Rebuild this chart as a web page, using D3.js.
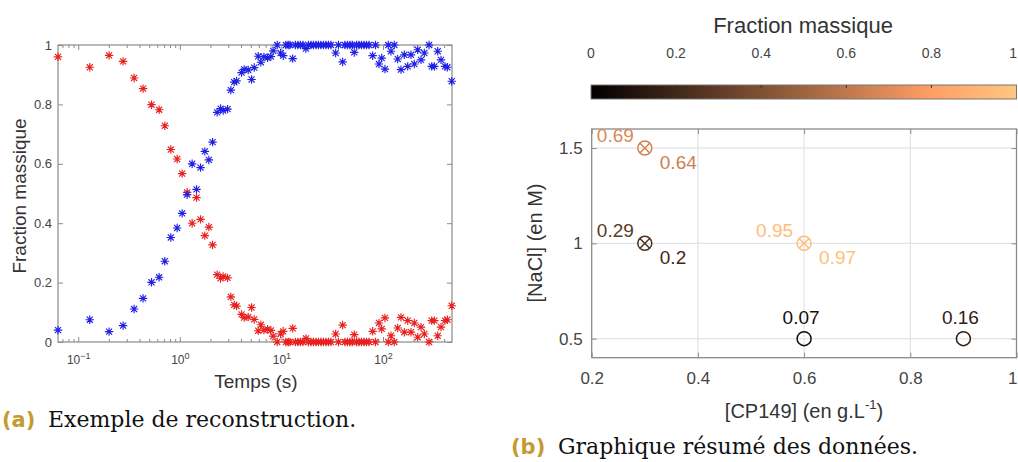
<!DOCTYPE html>
<html><head><meta charset="utf-8">
<script src="https://cdn.jsdelivr.net/npm/d3@7"></script>
<style>body{margin:0;background:#fff}svg{display:block}</style>
</head><body>
<svg id="c" width="1018" height="462"></svg>
<script>
// ---- Panel (a) data ----
const times = [0.0632,0.1298,0.2011,0.2763,0.3547,0.4349,0.5263,0.6253,0.7115,0.8153,0.9406,1.0536,1.180,1.322,1.460,1.599,1.763,1.931,2.100,2.331,2.518,2.671,2.951,3.18,3.428,3.619,4.054,4.300,4.710,5.087,5.395,5.907,6.281,6.724,7.311,7.883,8.30,9.09,9.82,10.42,11.08,11.67,12.13,12.92,13.73,14.54,15.39,16.29,17.43,18.45,19.53,20.67,21.88,23.15,24.50,25.94,27.45,29.04,30.74,34.2,36.44,40.08,42.23,44.70,47.31,49.84,52.15,55.07,58.01,61.40,65.01,68.8,72.8,79.16,84.37,91.3,97.1,104.6,112.8,119.9,129.2,139.6,150.4,162.2,175.1,188.7,203.4,219.8,236.8,255.3,284.0,301.9,320.2,345.8,372.7,408.1,430.0,475.2];
const redFrac = [0.96,0.925,0.965,0.945,0.889,0.853,0.799,0.782,0.728,0.648,0.616,0.567,0.504,0.40,0.486,0.413,0.358,0.387,0.327,0.227,0.214,0.221,0.216,0.152,0.125,0.121,0.093,0.082,0.084,0.116,0.076,0.038,0.058,0.040,0.043,0.039,0.020,0.0,0.027,0.036,0,0,0,0.046,0,0,0,0,0.012,0,0,0,0,0,0,0,0,0,0,0.027,0,0.057,0,0,0,0,0.025,0,0,0,0,0,0,0.036,0,0.064,0.044,0.081,0,0.021,0,0.047,0.083,0.033,0.072,0.033,0.064,0.016,0.05,0.027,0,0.072,0.072,0.021,0.05,0.072,0.075,0.122];
const blueFrac = [0.04,0.075,0.035,0.055,0.111,0.147,0.201,0.218,0.272,0.352,0.384,0.433,0.496,0.60,0.514,0.587,0.642,0.613,0.673,0.773,0.786,0.779,0.784,0.848,0.875,0.879,0.907,0.918,0.916,0.884,0.924,0.962,0.942,0.960,0.957,0.961,0.980,1.0,0.973,0.964,1,1,1,0.954,1,1,1,1,0.988,1,1,1,1,1,1,1,1,1,1,0.973,1,0.943,1,1,1,1,0.975,1,1,1,1,1,1,0.964,1,0.936,0.956,0.919,1,0.979,1,0.953,0.917,0.967,0.928,0.967,0.936,0.984,0.95,0.973,1,0.928,0.928,0.979,0.95,0.928,0.925,0.878];
const aYTicks = [0,0.2,0.4,0.6,0.8,1];
const aXTicks = [0.1,1,10,100];

// ---- Panel (b) data ----
const cpConc = [0.3,0.3,0.6,0.6,0.9];
const naclConc = [1.5,1.0,1.0,0.5,0.5];
const fracTop = [0.69,0.29,0.95,0.07,0.16];
const fracBottom = [0.64,0.2,0.97,null,null];
const bXTicks = [0.2,0.4,0.6,0.8,1];
const bYTicks = [0.5,1,1.5];
const cbTicks = [0,0.2,0.4,0.6,0.8,1];

const svg = d3.select("#c");
const FONT = "'Liberation Sans', Arial, sans-serif";
const AX = "#8a8a8a", TXT = "#444";

// copper colormap
const copper = t => d3.rgb(Math.min(1,1.25*t)*255, 0.7812*t*255, 0.4975*t*255).formatHex();

// ================= Panel (a) =================
const ax = d3.scaleLog().domain([0.0632, 478]).range([58, 452]);
const ay = d3.scaleLinear().domain([0,1]).range([342, 45]);
const ga = svg.append("g");

const minor = [];
[0.01,0.1,1,10,100].forEach(p => { for (let k=2;k<10;k++){ const v=p*k; if (v>=0.0632 && v<=478) minor.push(v);} });
ga.append("g").attr("transform","translate(0,342)")
  .call(d3.axisBottom(ax).tickValues(minor).tickSize(-3).tickFormat(""))
  .call(g=>g.select(".domain").remove()).selectAll("line").attr("stroke",AX);
ga.append("g").attr("transform","translate(0,45)")
  .call(d3.axisTop(ax).tickValues(minor).tickSize(-3).tickFormat(""))
  .call(g=>g.select(".domain").remove()).selectAll("line").attr("stroke",AX);
ga.append("g").attr("transform","translate(0,45)")
  .call(d3.axisTop(ax).tickValues(aXTicks).tickSize(-5).tickFormat(""))
  .call(g=>g.select(".domain").remove()).selectAll("line").attr("stroke",AX);
const xb = ga.append("g").attr("transform","translate(0,342)")
  .call(d3.axisBottom(ax).tickValues(aXTicks).tickSize(-5).tickPadding(13).tickFormat(""));
xb.select(".domain").remove();
xb.selectAll("line").attr("stroke",AX);
xb.selectAll(".tick").each(function(d){
  const t = d3.select(this).select("text");
  t.attr("font-family",FONT).attr("font-size",12).attr("fill",TXT).attr("dy","0.71em");
  t.append("tspan").text("10");
  t.append("tspan").attr("font-size",9).attr("dy",-5).text(String(Math.round(Math.log10(d))).replace("-","\u2212"));
});
const yl = ga.append("g").attr("transform","translate(58,0)")
  .call(d3.axisLeft(ay).tickValues(aYTicks).tickSize(-5).tickPadding(6).tickFormat(d=>String(d)));
yl.select(".domain").remove();
yl.selectAll("line").attr("stroke",AX);
yl.selectAll("text").attr("font-family",FONT).attr("font-size",13).attr("fill",TXT);
ga.append("g").attr("transform","translate(452,0)")
  .call(d3.axisRight(ay).tickValues(aYTicks).tickSize(-5).tickFormat(""))
  .call(g=>g.select(".domain").remove()).selectAll("line").attr("stroke",AX);
ga.append("rect").attr("x",58).attr("y",45).attr("width",394).attr("height",297)
  .attr("fill","none").attr("stroke",AX).attr("stroke-width",1.2);

const star = s => `M${-s},0L${s},0M0,${-s}L0,${s}M${-0.72*s},${-0.72*s}L${0.72*s},${0.72*s}M${-0.72*s},${0.72*s}L${0.72*s},${-0.72*s}`;
function drawStars(vals, col){
  ga.append("g").selectAll("path").data(times.map((t,i)=>[t,vals[i]])).join("path")
    .attr("transform",d=>`translate(${ax(d[0])},${ay(d[1])})`)
    .attr("d",star(4.2)).attr("stroke",col).attr("stroke-width",1.15).attr("fill","none");
}
drawStars(redFrac, "#e8201f");
drawStars(blueFrac, "#1f1fe6");

ga.append("text").attr("x",256).attr("y",388).attr("text-anchor","middle")
  .attr("font-family",FONT).attr("font-size",19).attr("fill","#333").text("Temps (s)");
ga.append("text").attr("transform","translate(26,196) rotate(-90)").attr("text-anchor","middle")
  .attr("font-family",FONT).attr("font-size",19).attr("fill","#333").text("Fraction massique");

// ================= Panel (b) =================
const bx = d3.scaleLinear().domain([0.2,1]).range([591.7,1016.5]);
const by = d3.scaleLinear().domain([0.4,1.6]).range([357.7,129]);
const gb = svg.append("g");

gb.append("g").selectAll("line").data(bXTicks.slice(1,-1)).join("line")
  .attr("x1",d=>bx(d)).attr("x2",d=>bx(d)).attr("y1",129).attr("y2",357.7)
  .attr("stroke","#e3e3e3").attr("stroke-width",1.2);
gb.append("g").selectAll("line").data(bYTicks).join("line")
  .attr("y1",d=>by(d)).attr("y2",d=>by(d)).attr("x1",591.7).attr("x2",1016.5)
  .attr("stroke","#e3e3e3").attr("stroke-width",1.2);

const bxa = gb.append("g").attr("transform","translate(0,357.7)")
  .call(d3.axisBottom(bx).tickValues(bXTicks).tickSize(-5).tickPadding(14).tickFormat(d=>String(d)));
bxa.select(".domain").remove();
bxa.selectAll("line").attr("stroke",AX);
bxa.selectAll("text").attr("font-family",FONT).attr("font-size",17).attr("fill",TXT);
bxa.selectAll(".tick").filter(d=>d===1).select("text").attr("text-anchor","end").attr("x",1017-bx(1));
gb.append("g").attr("transform","translate(0,129)")
  .call(d3.axisTop(bx).tickValues(bXTicks).tickSize(-5).tickFormat(""))
  .call(g=>g.select(".domain").remove()).selectAll("line").attr("stroke",AX);
const bya = gb.append("g").attr("transform","translate(591.7,0)")
  .call(d3.axisLeft(by).tickValues(bYTicks).tickSize(-5).tickPadding(9).tickFormat(d=>String(d)));
bya.select(".domain").remove();
bya.selectAll("line").attr("stroke",AX);
bya.selectAll("text").attr("font-family",FONT).attr("font-size",17).attr("fill",TXT);
gb.append("g").attr("transform","translate(1016.5,0)")
  .call(d3.axisRight(by).tickValues(bYTicks).tickSize(-5).tickFormat(""))
  .call(g=>g.select(".domain").remove()).selectAll("line").attr("stroke",AX);
gb.append("rect").attr("x",591.7).attr("y",129).attr("width",1016.5-591.7).attr("height",357.7-129)
  .attr("fill","none").attr("stroke",AX).attr("stroke-width",1.3);

const pts = cpConc.map((c,i)=>({c, n:naclConc[i], a:fracTop[i], b:fracBottom[i]}));
const mk = gb.append("g").selectAll("g").data(pts).join("g")
  .attr("transform",d=>`translate(${bx(d.c)},${by(d.n)})`);
mk.each(function(d){
  const g = d3.select(this);
  const col = d.b==null ? copper(d.a) : copper((d.a+d.b)/2);
  g.append("circle").attr("r",7).attr("fill","none").attr("stroke",col).attr("stroke-width",1.5);
  if (d.b!=null){
    const s=4.9;
    g.append("path").attr("d",`M${-s},${-s}L${s},${s}M${-s},${s}L${s},${-s}`)
      .attr("stroke",col).attr("stroke-width",1.5);
    g.append("text").attr("x",-11).attr("y",-13).attr("dy","0.35em").attr("text-anchor","end")
      .attr("font-family",FONT).attr("font-size",19).attr("fill",copper(d.a)).text(String(d.a));
    g.append("text").attr("x",15).attr("y",14.5).attr("dy","0.35em").attr("text-anchor","start")
      .attr("font-family",FONT).attr("font-size",19).attr("fill",copper(d.b)).text(String(d.b));
  } else {
    g.append("text").attr("x",-3).attr("y",-21).attr("dy","0.35em").attr("text-anchor","middle")
      .attr("font-family",FONT).attr("font-size",19).attr("fill",copper(d.a)).text(String(d.a));
  }
});

gb.append("text").attr("x",804).attr("y",418).attr("text-anchor","middle")
  .attr("font-family",FONT).attr("font-size",20).attr("fill","#333")
  .call(t=>{ t.append("tspan").text("[CP149] (en g.L");
             t.append("tspan").attr("font-size",13).attr("dy",-9).text("-1");
             t.append("tspan").attr("dy",9).text(")"); });
gb.append("text").attr("transform","translate(542,243) rotate(-90)").attr("text-anchor","middle")
  .attr("font-family",FONT).attr("font-size",20).attr("fill","#333").text("[NaCl] (en M)");

// colorbar
const cbx = d3.scaleLinear().domain([0,1]).range([591, 1016.5]);
const defs = svg.append("defs");
const grad = defs.append("linearGradient").attr("id","cop").attr("x1","0%").attr("x2","100%");
d3.range(0,1.0001,0.05).forEach(t=>grad.append("stop").attr("offset",(t*100)+"%").attr("stop-color",copper(t)));
gb.append("rect").attr("x",591).attr("y",85).attr("width",1016.5-591).attr("height",14)
  .attr("fill","url(#cop)").attr("stroke","#777").attr("stroke-width",1);
gb.append("g").selectAll("line").data(cbTicks.slice(1,-1)).join("line")
  .attr("x1",d=>cbx(d)).attr("x2",d=>cbx(d)).attr("y1",85).attr("y2",88)
  .attr("stroke","#333").attr("stroke-width",1);
gb.append("g").selectAll("text").data(cbTicks).join("text")
  .attr("x",d=>d===1?1017:cbx(d)).attr("y",58).attr("text-anchor",d=>d===1?"end":"middle")
  .attr("font-family",FONT).attr("font-size",14).attr("fill",TXT).text(d=>String(d));
gb.append("text").attr("x",803).attr("y",33).attr("text-anchor","middle")
  .attr("font-family",FONT).attr("font-size",22).attr("fill","#333").text("Fraction massique");

// captions
const SER = "'DejaVu Serif', serif";
svg.append("text").attr("x",2).attr("y",427).attr("font-family","'DejaVu Sans', sans-serif")
  .attr("font-weight","bold").attr("font-size",21).attr("fill","#c49b32").text("(a)");
svg.append("text").attr("x",48).attr("y",427).attr("font-family",SER).attr("font-size",22)
  .attr("fill","#111").text("Exemple de reconstruction.");
svg.append("text").attr("x",511).attr("y",454).attr("font-family","'DejaVu Sans', sans-serif")
  .attr("font-weight","bold").attr("font-size",21).attr("fill","#c49b32").text("(b)");
svg.append("text").attr("x",558).attr("y",454).attr("font-family",SER).attr("font-size",22)
  .attr("fill","#111").text("Graphique résumé des données.");
</script>
</body></html>
